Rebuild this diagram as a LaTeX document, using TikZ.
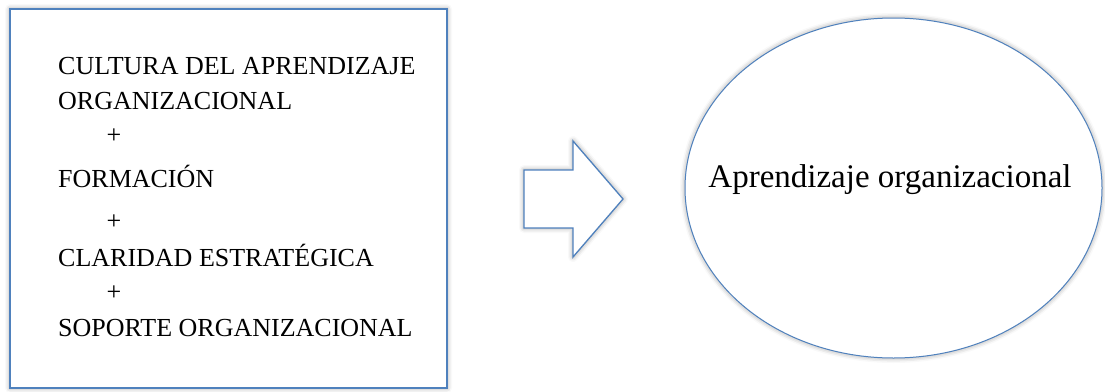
\documentclass[tikz,border=0pt]{standalone}
\usepackage{fontspec}
\setmainfont{Liberation Serif}
\usetikzlibrary{shapes.geometric,shadows.blur}
\definecolor{frameblue}{RGB}{79,129,189}
\tikzset{
  glow/.style={blur shadow={shadow xshift=0pt, shadow yshift=0pt, shadow blur radius=5pt, shadow opacity=40}},
  item/.style={anchor=base west, inner sep=0pt, font=\fontsize{26}{30}\selectfont},
  plus/.style={anchor=center, inner sep=0pt, font=\fontsize{26}{30}\selectfont}
}
\begin{document}
\begin{tikzpicture}[x=1pt,y=-1pt]
            \useasboundingbox (0,0) rectangle (1105,391);
            \node[draw=frameblue, line width=1.8pt, fill=white, glow, minimum width=437pt, minimum height=379pt, inner sep=0pt] (factores) at (228.5,198.5) {};

            \node[item] (cultura) at (58,74) {CULTURA DEL APRENDIZAJE};
            \node[item] (organiz) at (58,109) {ORGANIZACIONAL};
            \node[plus] (masa) at (114,136) {+};
            \node[item] (formacion) at (58,187) {FORMACIÓN};
            \node[plus] (masb) at (114,222) {+};
            \node[item] (claridad) at (58,266) {CLARIDAD ESTRATÉGICA};
            \node[plus] (masc) at (114,293) {+};
            \node[item] (soporte) at (58,336) {SOPORTE ORGANIZACIONAL};

            \draw[frameblue, line width=1.3pt, fill=white, glow, line join=miter] (524,170) -- (573,170) -- (573,141) -- (623,199) -- (573,257) -- (573,228) -- (524,228) -- cycle;

            \node[ellipse, draw=frameblue, line width=1pt, fill=white, glow, minimum width=417pt, minimum height=340pt, inner sep=0pt] (resultado) at (893.5,188) {};
            \node[anchor=base, inner sep=0pt, font=\fontsize{33}{38}\selectfont] (aprendizaje) at (890,187) {Aprendizaje organizacional};
        \end{tikzpicture}
\end{document}
